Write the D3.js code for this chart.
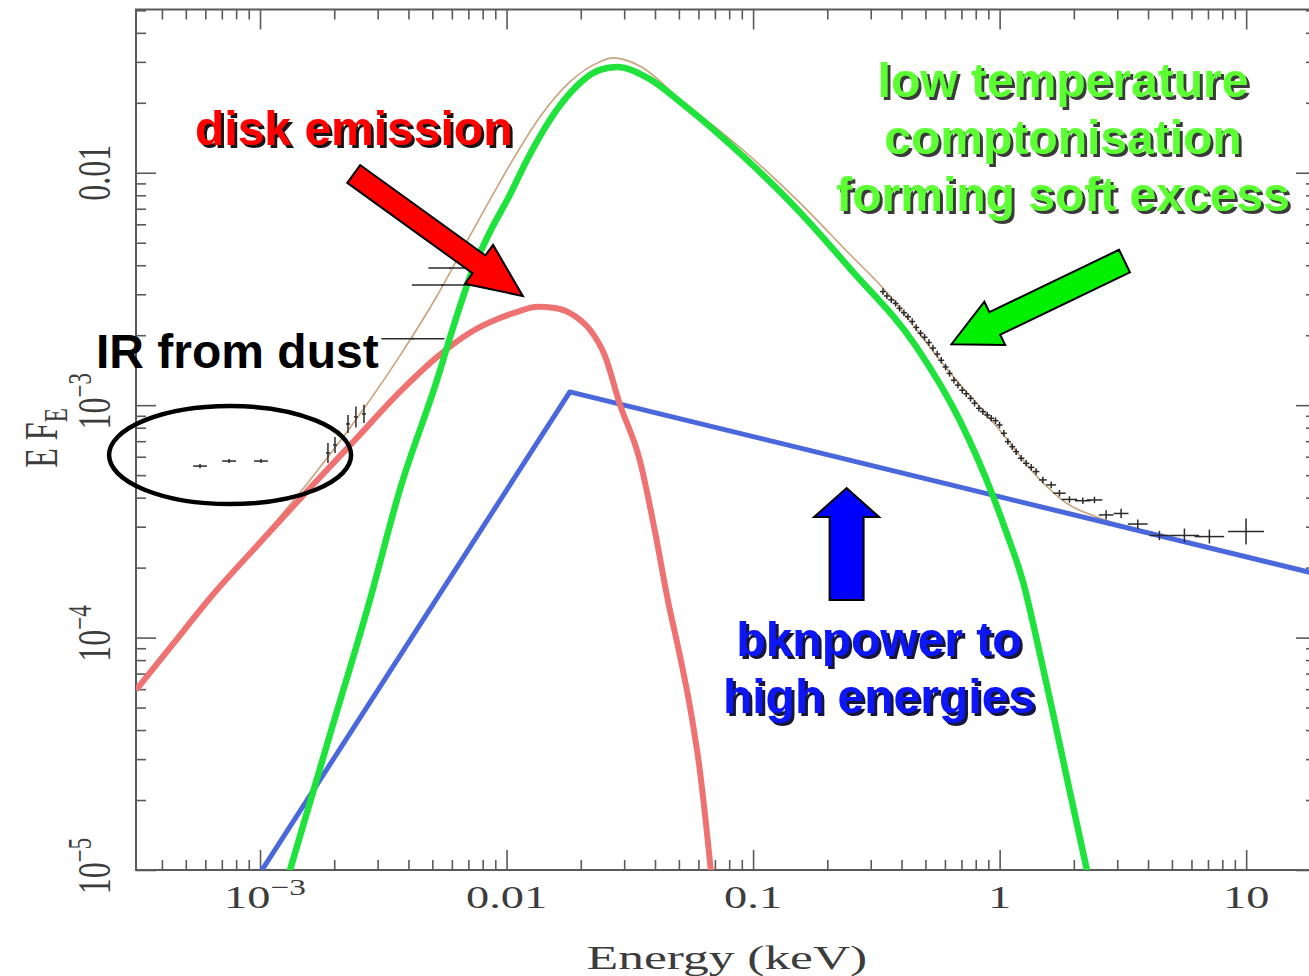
<!DOCTYPE html>
<html>
<head>
<meta charset="utf-8">
<script src="https://cdn.jsdelivr.net/npm/d3@7"></script>
<style>
  html, body { margin: 0; padding: 0; background: #fff; }
  svg { display: block; }
</style>
</head>
<body>
<svg id="chart" width="1309" height="976"></svg>
<script>
// ---- Spectral energy distribution: energy (keV) vs E F_E ----

// Axis ranges
const xDomain = [3.14e-4, 19.2];
const yDomain = [1e-5, 0.0504];
const xMajorTicks = [1e-3, 1e-2, 0.1, 1, 10];
const xTickLabels = [["10", "\u22123"], ["0.01"], ["0.1"], ["1"], ["10"]];
const yMajorTicks = [1e-5, 1e-4, 1e-3, 1e-2];
const yTickLabels = [["10", "\u22125"], ["10", "\u22124"], ["10", "\u22123"], ["0.01"]];

// Disk blackbody component
const diskEnergy = [3.14e-4, 4.44e-4, 6.27e-4, 9.54e-4, 1.595e-3, 2.427e-3, 3.69e-3, 5.22e-3,
  7.10e-3, 9.39e-3, 0.0113, 0.0133, 0.0157, 0.0189, 0.0218, 0.0250, 0.0288, 0.0347,
  0.0399, 0.0451, 0.0504, 0.0553, 0.0608, 0.0648, 0.0680];
const diskFlux = [5.95e-5, 9.39e-5, 1.48e-4, 2.43e-4, 4.40e-4, 7.08e-4, 1.14e-3, 1.61e-3,
  2.05e-3, 2.37e-3, 2.54e-3, 2.65e-3, 2.62e-3, 2.42e-3, 2.11e-3, 1.64e-3, 1.01e-3, 5.81e-4,
  2.90e-4, 1.45e-4, 8.42e-5, 5.13e-5, 2.69e-5, 1.49e-5, 9.06e-6];

// Low temperature Comptonisation component
const comptEnergy = [1.27e-3, 1.92e-3, 2.79e-3, 3.69e-3, 5.22e-3, 6.17e-3, 7.23e-3, 8.56e-3,
  0.01031, 0.0121, 0.01755, 0.0239, 0.0280, 0.0381, 0.0518, 0.0908, 0.1545, 0.2463, 0.460,
  0.688, 0.936, 1.067, 1.238, 1.451, 1.669, 1.920, 2.250, 2.358];
const comptFlux = [8.62e-6, 3.81e-5, 1.45e-4, 4.32e-4, 1.28e-3, 2.28e-3, 3.74e-3, 5.56e-3,
  8.03e-3, 0.01135, 0.0212, 0.0277, 0.0285, 0.0253, 0.01977, 0.01181, 6.78e-3, 3.89e-3, 1.78e-3,
  8.63e-4, 4.11e-4, 2.82e-4, 1.77e-4, 8.67e-5, 4.42e-5, 2.21e-5, 1.02e-5, 8.04e-6];

// Broken power law component
const bknEnergy = [1.0e-3, 0.01806, 19.2];
const bknFlux = [9.7e-6, 1.14e-3, 1.88e-4];

// Total model
const totalEnergy = [3.14e-4, 6.27e-4, 9.54e-4, 1.595e-3, 2.427e-3, 3.69e-3, 5.22e-3, 7.10e-3,
  8.56e-3, 0.01031, 0.01365, 0.01806, 0.0239, 0.0270, 0.0347, 0.0504, 0.0908, 0.1545,
  0.2463, 0.335, 0.626, 1.00, 1.411, 1.867, 2.541, 4.052, 17.99];
const totalFlux = [6.07e-5, 1.51e-4, 2.48e-4, 4.77e-4, 8.55e-4, 1.63e-3, 2.95e-3, 5.35e-3,
  7.64e-3, 0.0108, 0.01738, 0.0246, 0.0300, 0.0312, 0.0288, 0.0208, 0.01256, 7.44e-3,
  4.47e-3, 3.21e-3, 1.39e-3, 7.82e-4, 4.96e-4, 3.79e-4, 3.27e-4, 2.85e-4, 1.92e-4];

// Observed points; error half-widths are in dex
const irDustEnergy = [5.71e-4, 7.49e-4, 1.009e-3];
const irDustFlux = [5.47e-4, 5.75e-4, 5.75e-4];
const irDustErrE = [0.028, 0.028, 0.028];
const irDustErrF = [0.009, 0.009, 0.009];

const nearIrEnergy = [1.886e-3, 2.014e-3, 2.274e-3, 2.449e-3, 2.64e-3];
const nearIrFlux = [6.23e-4, 6.74e-4, 8.30e-4, 8.90e-4, 9.17e-4];
const nearIrErrE = [0.008, 0.008, 0.008, 0.008, 0.008];
const nearIrErrF = [0.043, 0.034, 0.039, 0.045, 0.039];

const opticalEnergy = [4.17e-3, 5.47e-3, 5.89e-3];
const opticalFlux = [1.93e-3, 3.29e-3, 3.89e-3];
const opticalErrE = [0.128, 0.122, 0.087];
const opticalErrF = [0.004, 0.004, 0.004];

const xrayEnergy = [0.3363, 0.349, 0.3634, 0.3785, 0.3928, 0.409, 0.4247, 0.4421, 0.4589, 0.4779,
  0.4961, 0.5166, 0.5362, 0.5585, 0.5797, 0.6035, 0.6266, 0.6524, 0.6772, 0.7052,
  0.732, 0.7623, 0.7913, 0.824, 0.8553, 0.8905, 0.9243, 0.9625, 0.9991, 1.040,
  1.080, 1.125, 1.167, 1.223, 1.281, 1.343, 1.407, 1.497, 1.619, 1.749,
  1.920, 2.175, 2.425, 2.704, 3.110, 3.634, 4.448, 5.617, 7.094, 9.989];
const xrayFlux = [3.08e-3, 2.95e-3, 2.84e-3, 2.74e-3, 2.61e-3, 2.50e-3, 2.40e-3, 2.29e-3, 2.16e-3, 2.04e-3,
  1.96e-3, 1.86e-3, 1.76e-3, 1.66e-3, 1.56e-3, 1.46e-3, 1.37e-3, 1.28e-3, 1.22e-3, 1.16e-3,
  1.12e-3, 1.07e-3, 1.02e-3, 9.69e-4, 9.38e-4, 9.07e-4, 8.78e-4, 8.58e-4, 8.22e-4, 7.57e-4,
  6.97e-4, 6.63e-4, 6.31e-4, 5.91e-4, 5.62e-4, 5.40e-4, 5.18e-4, 4.77e-4, 4.54e-4, 4.18e-4,
  3.93e-4, 3.88e-4, 3.91e-4, 3.37e-4, 3.42e-4, 3.08e-4, 2.75e-4, 2.75e-4, 2.72e-4, 2.86e-4];
const xrayErrE = [0.012, 0.012, 0.012, 0.012, 0.012, 0.012, 0.012, 0.012, 0.012, 0.012,
  0.012, 0.012, 0.012, 0.012, 0.012, 0.012, 0.012, 0.012, 0.012, 0.012,
  0.012, 0.012, 0.012, 0.012, 0.012, 0.012, 0.012, 0.012, 0.012, 0.012,
  0.012, 0.012, 0.012, 0.013, 0.013, 0.013, 0.013, 0.016, 0.02, 0.025,
  0.032, 0.032, 0.032, 0.03, 0.03, 0.04, 0.04, 0.06, 0.06, 0.073];
const xrayErrF = [0.014, 0.014, 0.014, 0.014, 0.014, 0.014, 0.014, 0.014, 0.014, 0.014,
  0.014, 0.014, 0.014, 0.014, 0.014, 0.014, 0.014, 0.014, 0.014, 0.014,
  0.014, 0.014, 0.014, 0.014, 0.014, 0.014, 0.014, 0.014, 0.014, 0.014,
  0.014, 0.014, 0.014, 0.014, 0.014, 0.014, 0.014, 0.014, 0.014, 0.014,
  0.014, 0.014, 0.014, 0.02, 0.02, 0.02, 0.02, 0.03, 0.03, 0.056];

// ---- Layout ----
const plot = { left: 136, right: 1316, top: 9.5, bottom: 870 };
const axisColor = "#5a5a5a";
const labelColor = "#3c3c3c";
const labelFont = "'Liberation Serif', 'DejaVu Serif', serif";
const annoFont = "'Liberation Sans', Arial, sans-serif";
const glyphStretch = 1.45;

const svg = d3.select("#chart");

const x = d3.scaleLog().domain(xDomain).range([plot.left, plot.right]);
const y = d3.scaleLog().domain(yDomain).range([plot.bottom, plot.top]);

const defs = svg.append("defs");
defs.append("clipPath").attr("id", "plotClip")
  .append("rect")
  .attr("x", plot.left).attr("y", plot.top)
  .attr("width", plot.right - plot.left).attr("height", plot.bottom - plot.top);

// Hard drop shadows for the annotation captions
function shadowFilter(id, color) {
  const f = defs.append("filter").attr("id", id)
    .attr("x", "-5%").attr("y", "-20%").attr("width", "115%").attr("height", "150%");
  f.append("feDropShadow").attr("dx", 3).attr("dy", 3).attr("stdDeviation", 0.4)
    .attr("flood-color", color).attr("flood-opacity", 1);
}
shadowFilter("shadowDark", "#151515");
shadowFilter("shadowGrey", "#3a3a3a");
shadowFilter("shadowNavy", "#16163a");

// ---- Axes: inward ticks on all four sides ----
const isMajor = (v, majors) => majors.some(m => Math.abs(v / m - 1) < 1e-6);
const xMinor = x.ticks().filter(v => !isMajor(v, xMajorTicks));
const yMinor = y.ticks().filter(v => !isMajor(v, yMajorTicks));

function drawAxis(gen, transform, values, size) {
  const g = svg.append("g").attr("transform", transform)
    .call(gen.tickValues(values).tickSize(-size).tickFormat(""));
  g.select(".domain").remove();
  g.selectAll("text").remove();
  g.selectAll("line").attr("stroke", axisColor).attr("stroke-width", 1.6);
}
const xAxes = [[d3.axisBottom, `translate(0,${plot.bottom})`], [d3.axisTop, `translate(0,${plot.top})`]];
const yAxes = [[d3.axisLeft, `translate(${plot.left},0)`], [d3.axisRight, `translate(${plot.right},0)`]];
xAxes.forEach(([a, t]) => { drawAxis(a(x), t, xMinor, 10); drawAxis(a(x), t, xMajorTicks, 20); });
yAxes.forEach(([a, t]) => { drawAxis(a(y), t, yMinor, 10); drawAxis(a(y), t, yMajorTicks, 20); });

svg.append("rect")
  .attr("x", plot.left).attr("y", plot.top)
  .attr("width", plot.right - plot.left).attr("height", plot.bottom - plot.top)
  .attr("fill", "none").attr("stroke", axisColor).attr("stroke-width", 2);

// Tick labels (stretched serif glyphs)
function writeLabel(g, parts, size) {
  const t = g.append("text")
    .attr("font-family", labelFont).attr("font-size", size)
    .attr("fill", labelColor).attr("text-anchor", "middle");
  t.append("tspan").text(parts[0]);
  if (parts.length > 1) {
    t.append("tspan").attr("font-size", size * 0.72).attr("dy", -size * 0.42).text(parts[1]);
  }
  return t;
}

xMajorTicks.forEach((v, i) => {
  const g = svg.append("g")
    .attr("transform", `translate(${x(v) + (xTickLabels[i].length > 1 ? 5 : 0)},908) scale(${glyphStretch},1)`);
  writeLabel(g, xTickLabels[i], 32);
});

yMajorTicks.forEach((v, i) => {
  const g = svg.append("g")
    .attr("transform", `translate(110,${y(v)}) rotate(-90) scale(1,${glyphStretch})`);
  writeLabel(g, yTickLabels[i], 32).attr("x", yTickLabels[i].length > 1 ? 4 : 0);
});

// Axis titles
svg.append("g")
  .attr("transform", `translate(727,969) scale(1.56,1)`)
  .append("text")
  .attr("font-family", labelFont).attr("font-size", 33)
  .attr("fill", labelColor).attr("text-anchor", "middle")
  .text("Energy (keV)");

const yTitle = svg.append("g")
  .attr("transform", `translate(57,438) rotate(-90) scale(1,${glyphStretch})`)
  .append("text")
  .attr("font-family", labelFont).attr("font-size", 32)
  .attr("fill", labelColor).attr("text-anchor", "middle");
yTitle.append("tspan").text("E F");
yTitle.append("tspan").attr("font-size", 23).attr("dy", 7).text("E");

// ---- Model curves ----
const curves = svg.append("g").attr("clip-path", "url(#plotClip)");
const smooth = d3.line().x(d => x(d[0])).y(d => y(d[1])).curve(d3.curveMonotoneX);
const straight = d3.line().x(d => x(d[0])).y(d => y(d[1]));
const pairs = (a, b) => a.map((v, i) => [v, b[i]]);

curves.append("path").datum(pairs(totalEnergy, totalFlux))
  .attr("d", smooth).attr("fill", "none")
  .attr("stroke", "#c9a27c").attr("stroke-width", 1.6);
curves.append("path").datum(pairs(bknEnergy, bknFlux))
  .attr("d", straight).attr("fill", "none")
  .attr("stroke", "#4a68dc").attr("stroke-width", 5).attr("stroke-linejoin", "round");
curves.append("path").datum(pairs(diskEnergy, diskFlux))
  .attr("d", smooth).attr("fill", "none")
  .attr("stroke", "#ee7272").attr("stroke-width", 6);
curves.append("path").datum(pairs(comptEnergy, comptFlux))
  .attr("d", smooth).attr("fill", "none")
  .attr("stroke", "#1fe23c").attr("stroke-width", 6.5);

// ---- Data points with error bars ----
const pts = svg.append("g").attr("clip-path", "url(#plotClip)")
  .attr("stroke", "#2a2a2a").attr("stroke-width", 1.5);
function drawPoints(E, F, dE, dF) {
  const data = E.map((e, i) => ({ e, f: F[i], de: dE[i], df: dF[i] }));
  const g = pts.append("g");
  g.selectAll("line.h").data(data).join("line").attr("class", "h")
    .attr("x1", d => x(d.e / Math.pow(10, d.de))).attr("x2", d => x(d.e * Math.pow(10, d.de)))
    .attr("y1", d => y(d.f)).attr("y2", d => y(d.f));
  g.selectAll("line.v").data(data).join("line").attr("class", "v")
    .attr("x1", d => x(d.e)).attr("x2", d => x(d.e))
    .attr("y1", d => y(d.f / Math.pow(10, d.df))).attr("y2", d => y(d.f * Math.pow(10, d.df)));
}
drawPoints(irDustEnergy, irDustFlux, irDustErrE, irDustErrF);
drawPoints(nearIrEnergy, nearIrFlux, nearIrErrE, nearIrErrF);
drawPoints(opticalEnergy, opticalFlux, opticalErrE, opticalErrF);
drawPoints(xrayEnergy, xrayFlux, xrayErrE, xrayErrF);

// ---- Annotations ----
function arrow(tail, tip, shaftW, headW, headL, fill) {
  const [x0, y0] = [x(tail[0]), y(tail[1])];
  const [x1, y1] = [x(tip[0]), y(tip[1])];
  const len = Math.hypot(x1 - x0, y1 - y0);
  const ux = (x1 - x0) / len, uy = (y1 - y0) / len;
  const nx = -uy, ny = ux;
  const bx = x1 - ux * headL, by = y1 - uy * headL;
  const p = [
    [x0 + nx * shaftW / 2, y0 + ny * shaftW / 2],
    [bx + nx * shaftW / 2, by + ny * shaftW / 2],
    [bx + nx * headW / 2, by + ny * headW / 2],
    [x1, y1],
    [bx - nx * headW / 2, by - ny * headW / 2],
    [bx - nx * shaftW / 2, by - ny * shaftW / 2],
    [x0 - nx * shaftW / 2, y0 - ny * shaftW / 2]
  ];
  svg.append("polygon")
    .attr("points", p.map(q => q.join(",")).join(" "))
    .attr("fill", fill).attr("stroke", "#000").attr("stroke-width", 2)
    .attr("stroke-linejoin", "miter");
}
arrow([2.40e-3, 9.88e-3], [0.01164, 2.95e-3], 22, 48, 54, "#ff0000");
arrow([3.21, 4.17e-3], [0.638, 1.83e-3], 25, 48, 48, "#00f000");
arrow([0.2395, 1.45e-4], [0.2395, 4.40e-4], 34, 65, 29, "#0000ff");

svg.append("ellipse")
  .attr("cx", x(7.56e-4)).attr("cy", y(6.10e-4))
  .attr("rx", 121).attr("ry", 49)
  .attr("fill", "none").attr("stroke", "#000").attr("stroke-width", 4.5);

function caption(lines, px, py, step, anchor, fill, filterId) {
  const t = svg.append("text")
    .attr("font-family", annoFont).attr("font-weight", "bold").attr("font-size", 48)
    .attr("text-anchor", anchor).attr("fill", fill);
  if (filterId) t.attr("filter", `url(#${filterId})`);
  lines.forEach((s, i) => {
    t.append("tspan").attr("x", px).attr("y", py + i * step).text(s);
  });
}
caption(["disk emission"], 195, 145, 0, "start", "#ff0000", "shadowDark");
caption(["IR from dust"], 96, 368, 0, "start", "#000000", null);
caption(["low temperature", "comptonisation", "forming soft excess"], 1063, 97, 57, "middle", "#5cff33", "shadowGrey");
caption(["bknpower to", "high energies"], 879, 656, 57, "middle", "#0c14f4", "shadowNavy");
</script>
</body>
</html>
